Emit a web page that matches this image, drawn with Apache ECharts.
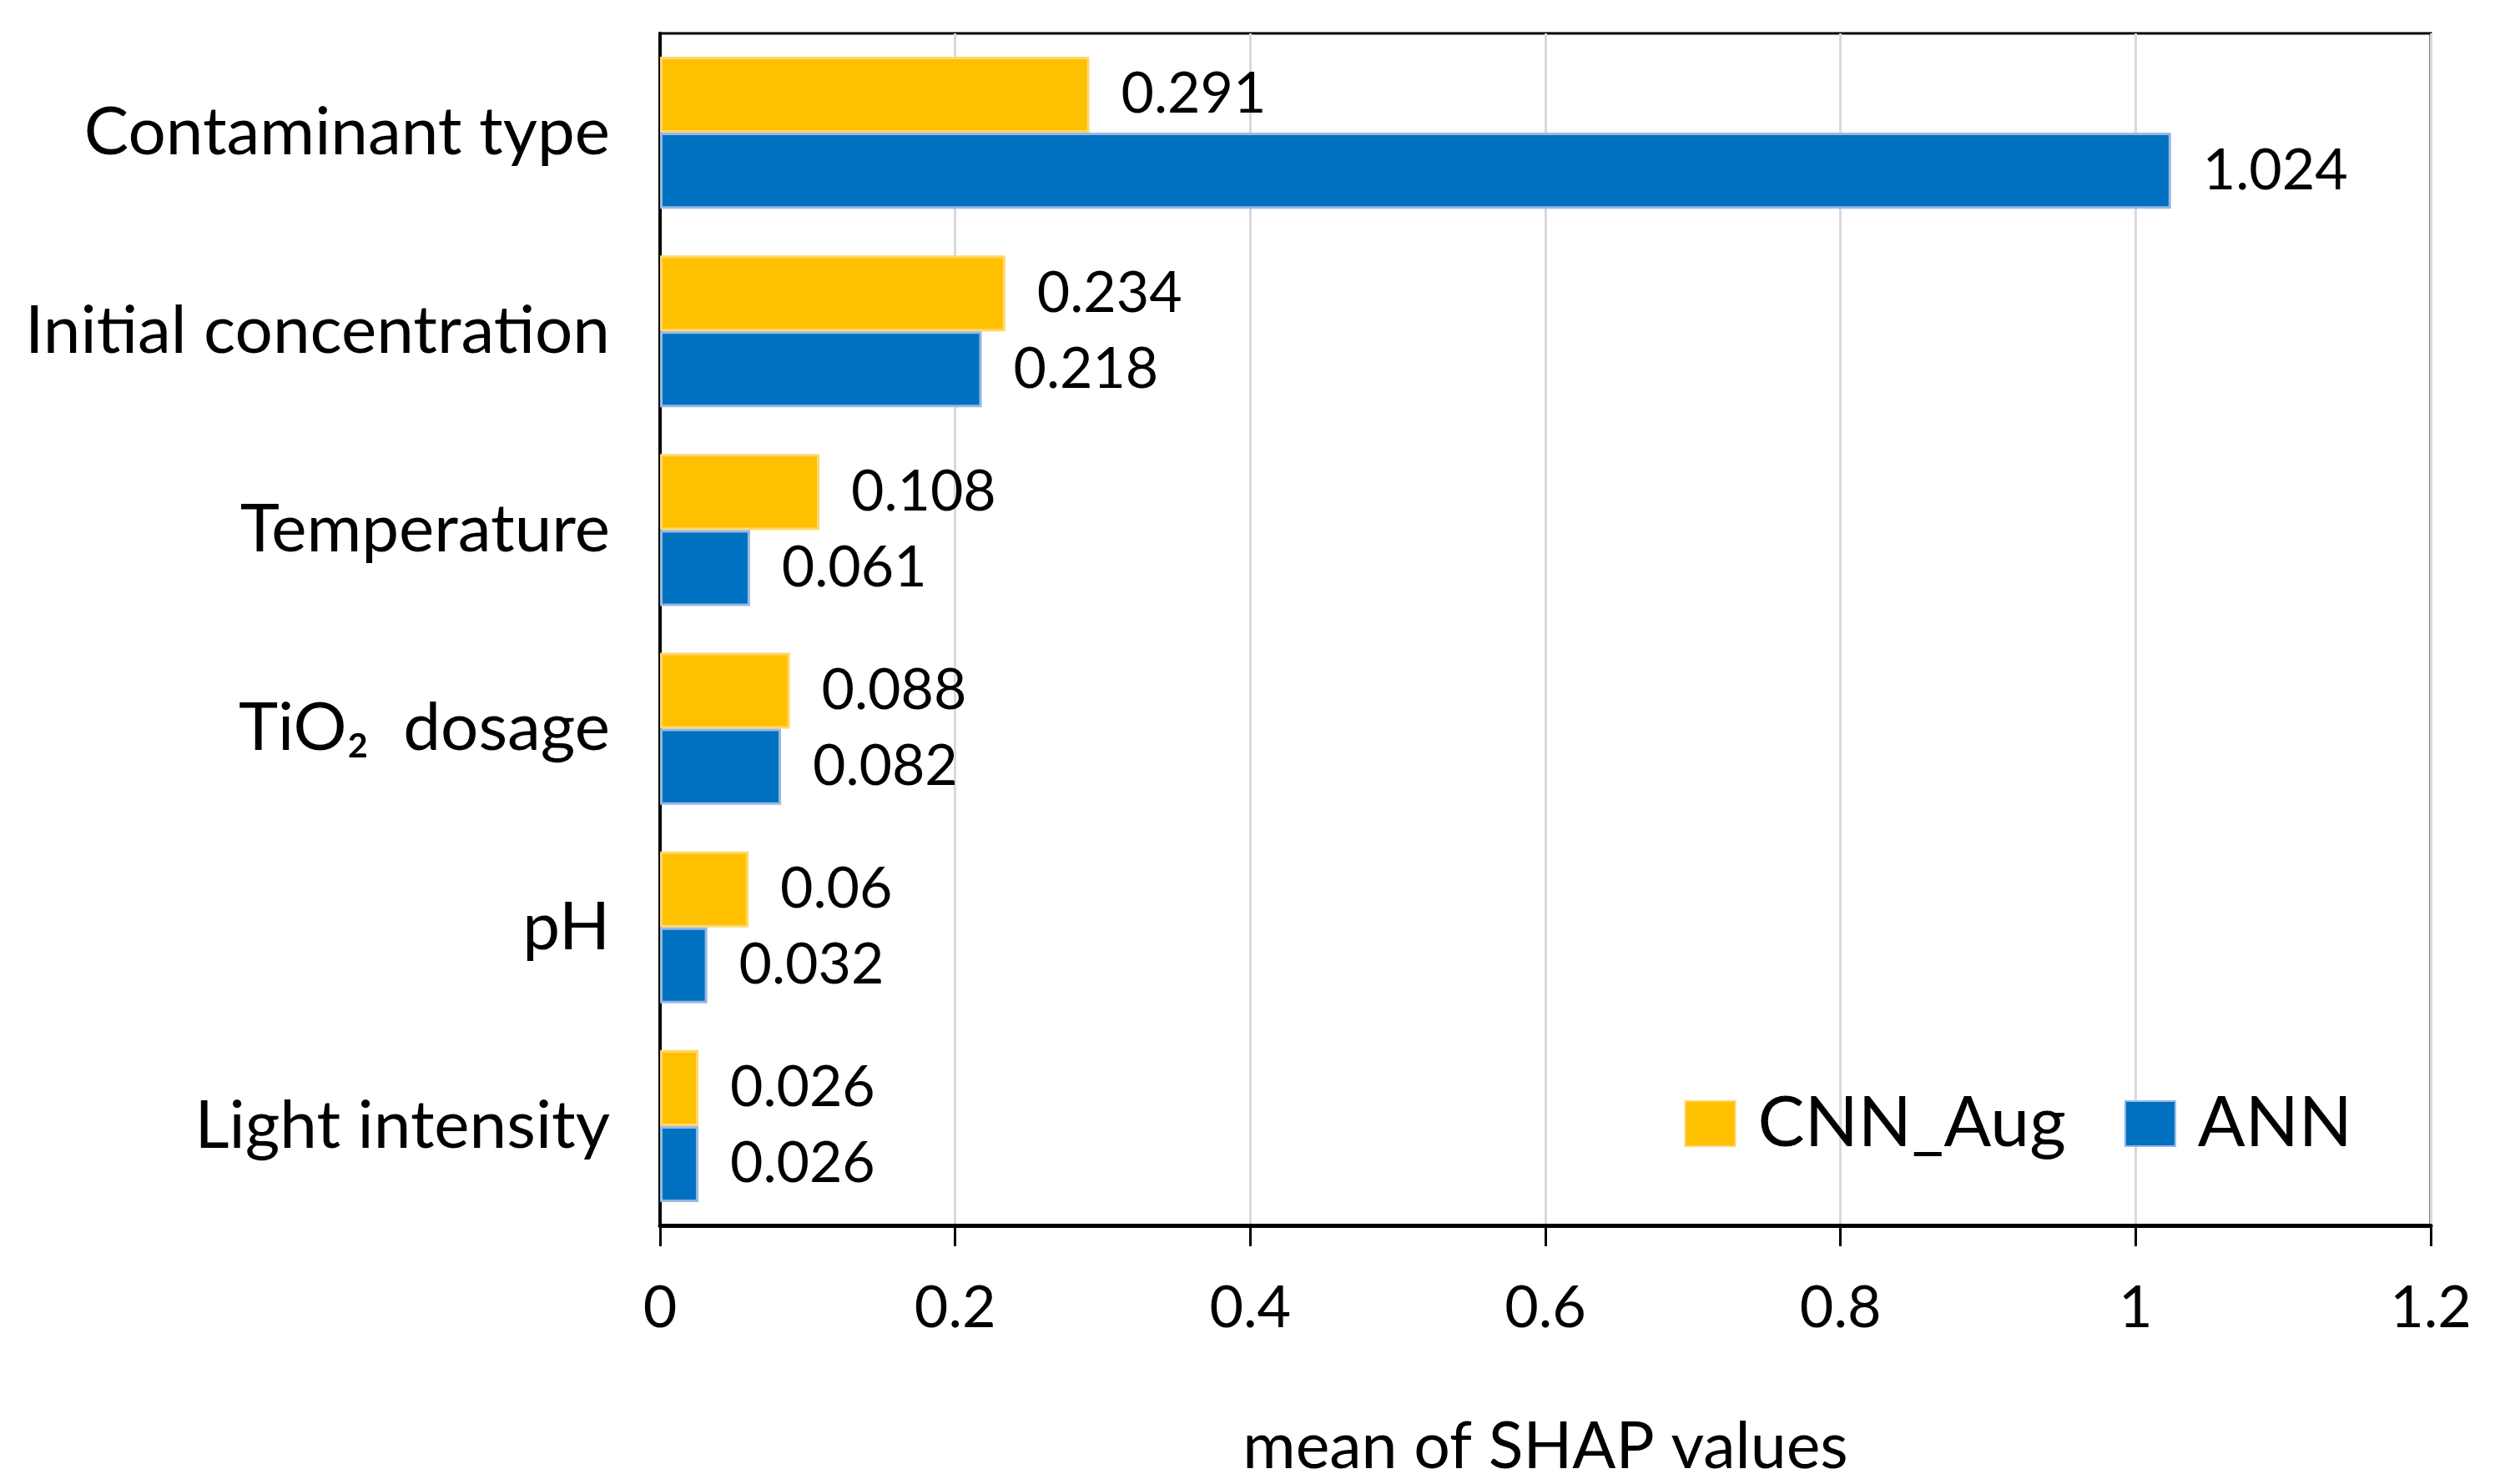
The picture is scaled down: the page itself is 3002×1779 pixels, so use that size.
<!DOCTYPE html>
<html>
<head>
<meta charset="utf-8">
<script src="https://cdn.jsdelivr.net/npm/echarts@6/dist/echarts.min.js"></script>
<style>
html,body{margin:0;padding:0;background:#fff;}
#chart{width:3002px;height:1779px;}
</style>
</head>
<body>
<div id="chart"></div>
<script>
const categories = ['Contaminant type', 'Initial concentration', 'Temperature', 'TiO\u2082  dosage', 'pH', 'Light intensity'];
const cnnAug = [0.291, 0.234, 0.108, 0.088, 0.06, 0.026];
const ann = [1.024, 0.218, 0.061, 0.082, 0.032, 0.026];
const xTicks = [0, 0.2, 0.4, 0.6, 0.8, 1, 1.2];

const FONT = 'Lato';
const chart = echarts.init(document.getElementById('chart'), null, {renderer: 'canvas'});
const labelCfg = {
  show: true,
  position: 'right',
  distance: 38,
  color: '#000',
  fontFamily: FONT,
  fontSize: 68,
  formatter: p => String(p.value)
};
chart.setOption({
  animation: false,
  backgroundColor: '#fff',
  textStyle: {fontFamily: FONT},
  grid: {left: 791, right: 89, top: 40, bottom: 279, show: true, borderColor: '#000', borderWidth: 3, backgroundColor: 'transparent'},
  legend: {
    right: 178,
    top: 1300,
    itemWidth: 60,
    itemHeight: 54,
    itemGap: 70,
    icon: 'rect',
    textStyle: {fontFamily: FONT, fontSize: 84, color: '#000', padding: [0, 0, 0, 22]},
    data: ['CNN_Aug', 'ANN']
  },
  xAxis: {
    type: 'value',
    min: 0,
    max: 1.2,
    interval: 0.2,
    name: 'mean of SHAP values',
    nameLocation: 'middle',
    nameGap: 228,
    nameTextStyle: {fontFamily: FONT, fontSize: 77, color: '#000'},
    axisLine: {show: true, lineStyle: {color: '#000', width: 5}},
    axisTick: {show: true, length: 25, lineStyle: {color: '#000', width: 3}},
    axisLabel: {
      margin: 64,
      fontFamily: FONT,
      fontSize: 70,
      color: '#000',
      formatter: v => {
        const t = xTicks.find(x => Math.abs(x - v) < 1e-9);
        return t === undefined ? '' : String(t);
      }
    },
    splitLine: {show: true, lineStyle: {color: '#d9d9d9', width: 3}}
  },
  yAxis: {
    type: 'category',
    inverse: true,
    data: categories,
    axisLine: {show: true, lineStyle: {color: '#000', width: 4}},
    axisTick: {show: false},
    axisLabel: {margin: 60, fontFamily: FONT, fontSize: 80, color: '#000', padding: [10, 0, 0, 0]},
    splitLine: {show: false}
  },
  series: [
    {
      name: 'CNN_Aug',
      type: 'bar',
      data: cnnAug,
      barGap: '0%',
      barCategoryGap: '23.5%',
      itemStyle: {color: '#FFC000', borderColor: 'rgba(255,214,110,1)', borderWidth: 3},
      label: labelCfg
    },
    {
      name: 'ANN',
      type: 'bar',
      data: ann,
      barGap: '0%',
      barCategoryGap: '23.5%',
      itemStyle: {color: '#0070C0', borderColor: 'rgba(150,185,225,1)', borderWidth: 3},
      label: labelCfg
    }
  ]
});
</script>
</body>
</html>
